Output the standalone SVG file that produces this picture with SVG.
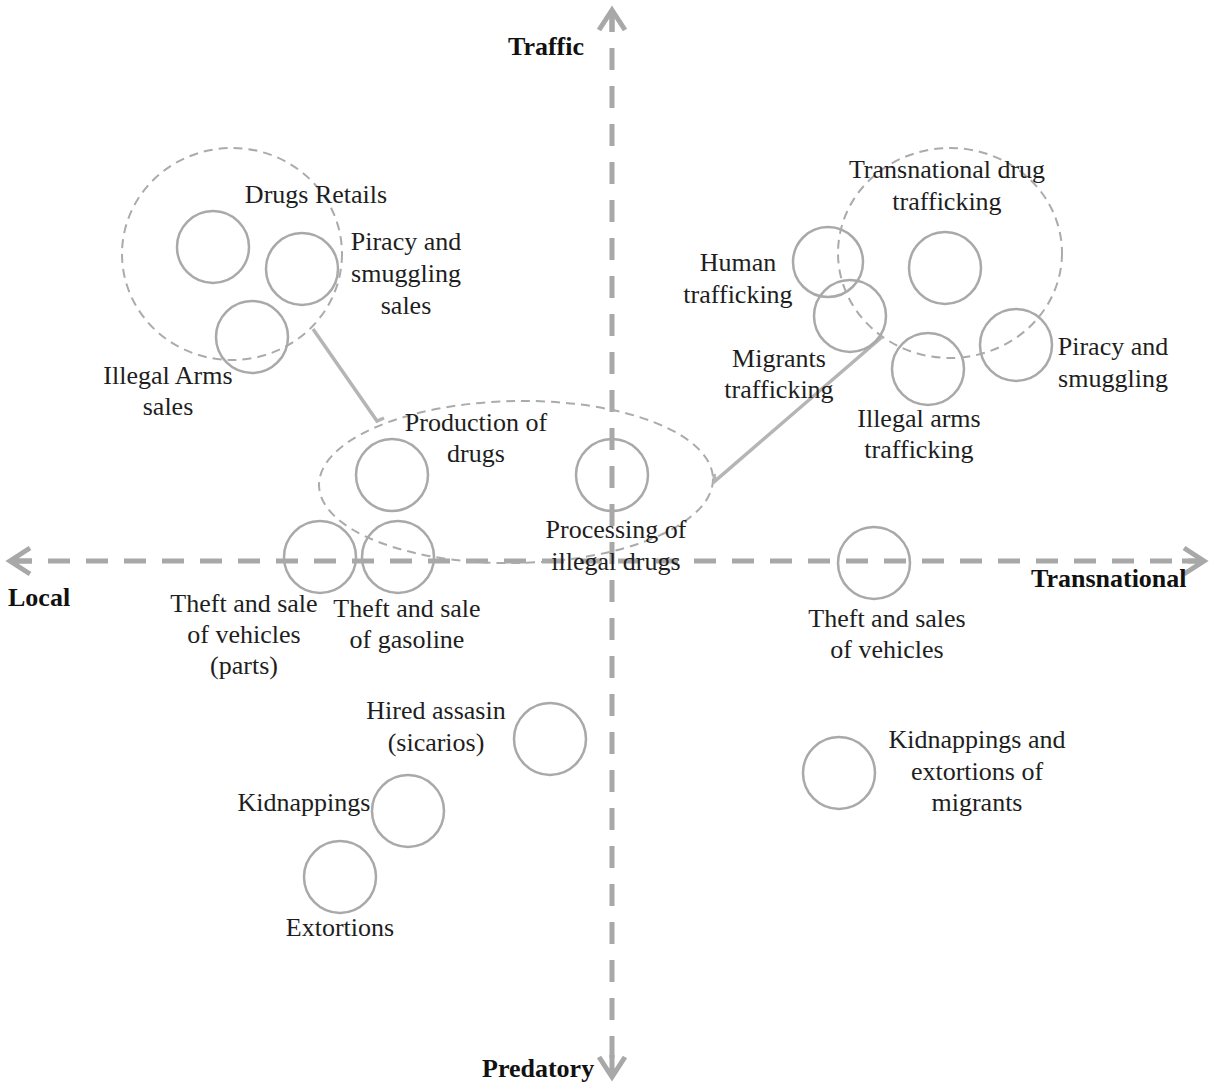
<svg xmlns="http://www.w3.org/2000/svg" width="1211" height="1083" viewBox="0 0 1211 1083">
<style>
  .axis { stroke: #a8a8a8; stroke-width: 5; stroke-dasharray: 22 16; fill: none; marker-start: url(#chev); marker-end: url(#chev); }
  .node { fill: none; stroke: #a9a9a9; stroke-width: 2.5; }
  .group { fill: none; stroke: #ababab; stroke-width: 2; stroke-dasharray: 9 6; }
  .conn { fill: none; stroke: #b5b5b5; stroke-width: 3.5; stroke-linejoin: miter; }
  .lbl { font-family: "Liberation Serif", "Times New Roman", serif; font-size: 26px; fill: #1e1e1e; text-anchor: middle; }
  .ax { font-family: "Liberation Serif", "Times New Roman", serif; font-size: 26px; font-weight: bold; fill: #111; }
</style>
<defs>
  <marker id="chev" markerUnits="userSpaceOnUse" markerWidth="40" markerHeight="40" refX="0" refY="0" orient="auto-start-reverse" overflow="visible" viewBox="-30 -20 40 40">
    <path d="M-20,-13 L0,0 L-20,13 M0,0 L-22,0" fill="none" stroke="#a8a8a8" stroke-width="5" stroke-linejoin="miter"/>
  </marker>
</defs>
<rect width="1211" height="1083" fill="#ffffff"/>

<g id="axes">
  <line class="axis" x1="10" y1="561" x2="1204" y2="561"/>
  <line class="axis" x1="612" y1="10" x2="612" y2="1077"/>
  <text class="ax" x="508" y="55">Traffic</text>
  <text class="ax" x="8" y="606">Local</text>
  <text class="ax" x="1031" y="587">Transnational</text>
  <text class="ax" x="482" y="1077">Predatory</text>
</g>

<g id="groups">
  <ellipse id="group-local-traffic" class="group" cx="232" cy="254" rx="110" ry="106"/>
  <ellipse id="group-transnational-traffic" class="group" cx="950" cy="253" rx="112" ry="105"/>
  <ellipse id="group-drugs" class="group" cx="516" cy="482" rx="197" ry="81" transform="rotate(-1 516 482)"/>
</g>

<g id="connectors">
  <polyline class="conn" points="313,329 377,421 384,418"/>
  <polyline class="conn" points="882,337 715,481 714,474"/>
</g>

<g id="node-drugs-retails">
  <circle class="node" cx="213" cy="247" r="36"/>
  <text class="lbl" x="316" y="203">Drugs Retails</text>
</g>
<g id="node-piracy-sales">
  <circle class="node" cx="302" cy="269" r="36"/>
  <text class="lbl" x="406" y="250">Piracy and</text>
  <text class="lbl" x="406" y="282">smuggling</text>
  <text class="lbl" x="406" y="314">sales</text>
</g>
<g id="node-illegal-arms-sales">
  <circle class="node" cx="252" cy="337" r="36"/>
  <text class="lbl" x="168" y="384">Illegal Arms</text>
  <text class="lbl" x="168" y="415">sales</text>
</g>
<g id="node-production">
  <circle class="node" cx="392" cy="475" r="36"/>
  <text class="lbl" x="476" y="431">Production of</text>
  <text class="lbl" x="476" y="462">drugs</text>
</g>
<g id="node-processing">
  <circle class="node" cx="612" cy="475" r="36"/>
  <text class="lbl" x="616" y="538">Processing of</text>
  <text class="lbl" x="616" y="570">illegal drugs</text>
</g>
<g id="node-human-trafficking">
  <circle class="node" cx="828" cy="262" r="35"/>
  <text class="lbl" x="738" y="271">Human</text>
  <text class="lbl" x="738" y="303">trafficking</text>
</g>
<g id="node-migrants-trafficking">
  <circle class="node" cx="850" cy="316" r="36"/>
  <text class="lbl" x="779" y="367">Migrants</text>
  <text class="lbl" x="779" y="398">trafficking</text>
</g>
<g id="node-transnational-drug">
  <circle class="node" cx="945" cy="268" r="36"/>
  <text class="lbl" x="947" y="178">Transnational drug</text>
  <text class="lbl" x="947" y="210">trafficking</text>
</g>
<g id="node-illegal-arms-trafficking">
  <circle class="node" cx="928" cy="369" r="36"/>
  <text class="lbl" x="919" y="427">Illegal arms</text>
  <text class="lbl" x="919" y="458">trafficking</text>
</g>
<g id="node-piracy-smuggling">
  <circle class="node" cx="1016" cy="345" r="36"/>
  <text class="lbl" x="1113" y="355">Piracy and</text>
  <text class="lbl" x="1113" y="387">smuggling</text>
</g>
<g id="node-theft-vehicles-parts">
  <circle class="node" cx="320" cy="557" r="36"/>
  <text class="lbl" x="244" y="612">Theft and sale</text>
  <text class="lbl" x="244" y="643">of vehicles</text>
  <text class="lbl" x="244" y="674">(parts)</text>
</g>
<g id="node-theft-gasoline">
  <circle class="node" cx="398" cy="557" r="36"/>
  <text class="lbl" x="407" y="617">Theft and sale</text>
  <text class="lbl" x="407" y="648">of gasoline</text>
</g>
<g id="node-theft-sales-vehicles">
  <circle class="node" cx="874" cy="563" r="36"/>
  <text class="lbl" x="887" y="627">Theft and sales</text>
  <text class="lbl" x="887" y="658">of vehicles</text>
</g>
<g id="node-hired-assasin">
  <circle class="node" cx="550" cy="739" r="36"/>
  <text class="lbl" x="436" y="719">Hired assasin</text>
  <text class="lbl" x="436" y="751">(sicarios)</text>
</g>
<g id="node-kidnappings">
  <circle class="node" cx="408" cy="811" r="36"/>
  <text class="lbl" x="304" y="811">Kidnappings</text>
</g>
<g id="node-extortions">
  <circle class="node" cx="340" cy="877" r="36"/>
  <text class="lbl" x="340" y="936">Extortions</text>
</g>
<g id="node-kidnappings-migrants">
  <circle class="node" cx="839" cy="773" r="36"/>
  <text class="lbl" x="977" y="748">Kidnappings and</text>
  <text class="lbl" x="977" y="780">extortions of</text>
  <text class="lbl" x="977" y="811">migrants</text>
</g>
</svg>
